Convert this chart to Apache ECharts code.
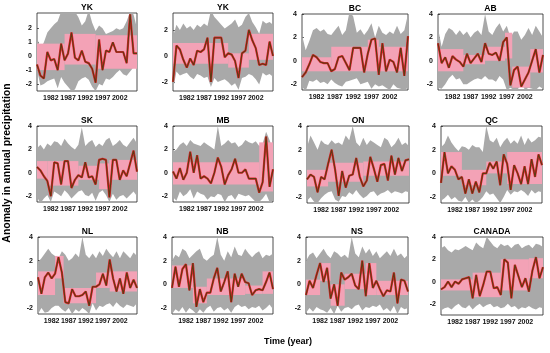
<!DOCTYPE html>
<html><head><meta charset="utf-8">
<script src="https://cdn.jsdelivr.net/npm/echarts@6/dist/echarts.min.js"></script>
<style>html,body{margin:0;padding:0;background:#fff}#c{width:550px;height:353px}</style>
</head><body><div id="c"></div>
<script>
const years = [1978,1979,1980,1981,1982,1983,1984,1985,1986,1987,1988,1989,1990,1991,1992,1993,1994,1995,1996,1997,1998,1999,2000,2001,2002,2003,2004,2005,2006,2007];
const xTickLabels = [1982,1987,1992,1997,2002];
const panelNames = ['YK','YK','BC','AB','SK','MB','ON','QC','NL','NB','NS','CANADA'];
const yTicksA = [-2,-1,0,1,2];
const yTicksB = [-2,0,2];
const yTicksC = [-2,0,2,4];

// observed anomaly
const obsYK1 = [-0.6,-1.4,-1.6,0.3,-0.3,-0.2,-1.0,0.9,-0.3,0.2,1.7,-0.1,-0.3,0.4,-0.4,-0.5,-0.9,-1.9,1.2,-1.0,0.4,0.3,1.0,0.3,0.3,0.3,-0.5,3.0,0.2,0.2];
const obsYK2 = [-2.0,0.8,0.5,-0.3,-0.9,-0.2,-0.7,0.4,0.3,0.5,1.4,-2.0,1.4,1.4,1.4,-0.1,0.2,0.1,-0.4,-1.7,0.2,0.4,2.0,1.2,0.6,-0.7,-0.6,-0.7,1.1,0.0];
const obsBC = [-1.4,-1.0,-0.3,0.5,0.3,-0.1,-0.2,-0.2,-0.9,-0.7,0.3,0.4,-0.2,-0.8,1.1,1.1,1.1,-1.0,0.6,1.8,1.9,-1.2,1.5,-0.9,0.1,-0.1,-1.0,1.1,-1.3,2.1];
const obsAB = [1.5,-0.2,0.3,-0.6,0.4,0.1,-0.1,-0.5,0.6,-0.2,0.2,0.6,-0.1,1.5,0.6,0.5,0.7,0.0,1.6,2.0,-2.1,-0.8,-0.5,-2.2,-1.6,-1.0,0.0,1.0,-1.0,0.5];
const obsSK = [0.5,0.2,-0.3,-0.7,-2.0,0.9,0.8,-1.0,1.0,1.0,-1.3,-0.6,-0.2,-0.4,0.9,-0.4,-0.3,-1.0,1.1,1.2,1.1,-2.1,1.1,1.1,-0.6,0.2,-0.3,0.8,1.9,0.1];
const obsMB = [0.1,-0.5,0.4,-0.6,0.0,1.8,0.0,1.5,-0.5,-0.3,-0.5,-0.9,0.0,1.3,0.5,-1.0,-0.2,0.3,1.2,0.0,0.0,0.3,-0.5,-0.5,-0.5,-1.7,-0.8,3.1,-1.2,0.3];
const obsON = [-0.5,-0.1,-0.3,-1.6,-0.3,-0.5,0.8,2.0,0.3,-1.9,0.2,-1.2,-0.2,-0.1,1.3,-0.3,-1.1,-0.6,1.4,0.4,-0.7,0.7,0.8,-0.6,1.5,-0.1,1.3,0.2,1.1,1.2];
const obsQC = [-0.8,1.8,0.0,0.6,0.3,-0.5,-0.3,-1.7,-0.5,-1.7,-0.7,-1.6,0.0,0.0,0.9,0.4,1.0,-1.0,1.6,0.8,-1.4,0.7,0.0,-0.9,0.6,-0.9,1.2,-0.3,1.6,0.7];
const obsNL = [0.6,-0.8,0.6,1.0,0.5,0.9,2.3,1.0,-1.5,-1.6,-0.4,-1.0,-1.0,-0.9,-0.6,-1.8,-0.2,-0.2,0.0,0.9,-0.1,2.1,0.5,-0.6,0.5,-0.8,1.0,-0.3,0.4,-0.3];
const obsNB = [-0.3,1.5,-0.2,1.3,1.7,-0.5,1.8,-1.9,-0.4,-1.5,-0.7,-0.7,0.5,1.4,-0.6,0.2,1.1,-1.5,0.9,-0.2,0.9,0.2,0.1,-0.9,-0.5,-0.4,-0.5,0.2,1.0,-0.4];
const obsNS = [-0.9,0.3,-0.3,0.8,1.8,0.2,1.4,-1.2,0.0,-1.8,1.0,0.4,0.6,0.9,-0.1,-0.4,2.0,-1.0,1.8,-0.3,0.3,-0.4,-1.0,-0.5,-0.6,1.0,-1.6,0.4,0.3,-0.6];
const obsCA = [-0.7,-0.5,0.0,-0.5,0.0,-0.2,0.2,0.3,0.4,-1.5,0.6,-1.3,-0.3,0.9,0.9,-0.6,-0.5,-1.2,2.0,1.7,-1.5,1.5,0.5,-0.5,0.3,-0.9,1.0,2.2,0.3,1.3];

// ensemble spread, upper edge
const upYK1 = [1.4,0.5,1.0,1.7,2.0,2.3,2.5,3.2,3.4,3.3,3.5,3.2,2.8,2.2,2.5,3.3,2.4,1.8,2.2,2.0,1.6,1.7,1.8,2.0,1.9,2.0,2.5,3.2,3.0,2.0];
const upYK2 = [1.5,2.4,2.0,2.5,2.1,2.3,2.0,2.4,2.2,2.5,2.3,3.5,3.0,2.7,2.4,2.1,2.3,2.5,2.8,2.2,2.4,3.0,3.3,2.6,2.2,1.7,2.7,2.5,2.6,2.4];
const upBC = [2.2,0.9,1.7,2.6,2.8,2.5,2.7,2.3,2.2,2.6,3.0,2.2,2.6,4.2,3.8,2.4,2.7,2.2,2.6,3.2,2.0,3.0,2.4,2.2,2.5,2.3,3.0,2.3,2.6,4.0];
const upAB = [2.8,1.2,2.3,2.8,2.6,2.2,2.6,2.2,2.5,2.0,2.4,2.6,2.2,4.0,2.5,2.2,2.8,3.2,2.5,3.0,2.0,2.5,2.5,1.8,2.2,2.8,2.2,3.0,2.5,2.0];
const upSK = [2.1,2.4,2.0,2.5,2.3,2.7,2.6,2.3,2.9,2.5,2.2,2.0,2.4,3.9,2.3,2.6,2.8,2.2,2.5,2.3,2.8,3.0,2.3,2.5,2.8,2.4,2.2,2.6,3.0,2.5];
const upMB = [1.8,2.0,2.4,2.6,2.3,2.8,2.5,2.4,2.3,2.6,2.4,2.2,2.0,4.0,2.3,2.5,2.8,2.5,2.6,2.2,2.4,2.8,2.6,2.5,2.7,2.3,2.5,3.5,2.8,2.0];
const upON = [2.2,3.2,2.6,2.0,2.8,2.5,2.4,2.8,2.5,2.6,2.4,3.2,2.8,4.0,2.6,2.3,3.0,2.4,2.8,2.6,2.4,2.2,3.0,2.8,2.2,2.5,3.0,2.4,2.6,2.3];
const upQC = [2.2,2.5,3.2,2.6,2.2,1.9,2.3,2.2,2.0,2.4,2.2,2.2,1.8,4.0,2.8,2.6,3.0,2.2,2.7,3.0,2.5,2.8,2.5,3.2,2.4,3.0,2.6,2.8,3.1,3.0];
const upNL = [1.9,2.2,2.6,3.0,2.6,2.4,2.2,2.8,2.5,2.0,2.2,2.6,2.3,4.0,2.5,2.2,2.6,2.2,2.8,2.4,3.0,2.6,2.3,2.8,2.2,2.8,2.5,2.2,2.7,2.4];
const upNB = [2.0,2.5,2.3,3.0,2.8,2.2,2.5,2.8,3.0,2.2,2.0,2.3,2.5,4.0,2.5,2.0,2.8,2.3,3.2,2.5,2.4,3.0,2.6,2.3,2.6,2.8,2.2,2.5,2.4,2.6];
const upNS = [2.0,2.5,2.7,2.2,2.6,3.0,2.5,2.2,2.8,2.6,2.3,2.5,2.2,4.0,2.6,2.3,3.2,2.6,3.0,2.4,2.8,2.2,2.5,2.8,2.4,3.0,2.4,2.6,2.2,2.5];
const upCA = [3.0,3.2,2.8,2.6,2.9,2.8,3.0,3.2,3.0,2.8,3.5,3.2,3.0,4.0,3.6,3.2,3.0,3.4,3.2,3.3,3.0,3.3,3.4,3.0,3.2,3.3,3.0,3.4,3.3,3.1];

// ensemble spread, lower edge
const loYK1 = [-1.0,-2.1,-2.0,-1.8,-1.7,-1.6,-2.3,-1.5,-1.9,-2.2,-2.5,-2.4,-1.8,-1.6,-1.5,-1.7,-2.2,-2.5,-2.0,-2.1,-1.6,-1.7,-1.5,-1.2,-1.0,-1.3,-1.4,-1.1,-0.8,-0.9];
const loYK2 = [-2.6,-1.2,-1.5,-1.4,-1.3,-1.6,-1.8,-1.4,-1.5,-1.7,-1.6,-2.4,-1.7,-2.0,-1.9,-1.8,-2.0,-2.3,-2.1,-2.6,-1.7,-1.6,-1.4,-1.5,-1.8,-2.2,-1.3,-1.5,-1.4,-1.6];
const loBC = [-2.2,-2.6,-1.7,-1.8,-1.6,-1.9,-1.8,-2.0,-1.6,-1.9,-2.1,-2.2,-1.8,-1.7,-1.6,-1.5,-2.0,-1.9,-1.8,-2.4,-2.0,-2.2,-2.1,-2.3,-2.5,-2.0,-2.3,-2.4,-2.5,-2.3];
const loAB = [-2.3,-2.4,-2.0,-1.5,-1.2,-1.6,-1.5,-2.0,-2.0,-1.8,-1.6,-1.5,-1.6,-1.3,-1.6,-1.6,-1.8,-1.3,-1.6,-2.5,-2.3,-2.5,-2.5,-1.8,-2.5,-2.3,-2.4,-2.5,-2.2,-2.4];
const loSK = [-2.1,-2.6,-2.2,-1.9,-2.5,-1.6,-1.8,-2.0,-1.5,-1.8,-2.2,-1.9,-1.6,-1.5,-1.9,-2.0,-1.7,-2.4,-1.7,-1.5,-1.9,-2.5,-1.8,-2.3,-2.0,-1.9,-2.2,-1.9,-1.6,-2.0];
const loMB = [-2.1,-2.4,-1.6,-2.0,-1.8,-1.4,-2.2,-1.6,-1.8,-1.9,-2.3,-2.0,-2.1,-1.8,-1.9,-2.5,-2.0,-1.9,-2.3,-1.8,-1.9,-2.0,-1.9,-2.2,-2.5,-2.5,-2.2,-1.8,-2.5,-2.4];
const loON = [-2.3,-2.0,-2.4,-2.5,-2.1,-1.8,-1.6,-1.5,-2.2,-2.4,-1.9,-2.0,-1.6,-1.8,-1.4,-1.8,-2.1,-1.9,-1.6,-1.5,-1.9,-1.7,-1.6,-1.4,-1.7,-1.5,-1.6,-1.7,-1.5,-1.6];
const loQC = [-2.3,-2.1,-1.8,-2.2,-2.0,-2.3,-2.4,-2.0,-2.5,-2.2,-2.5,-2.3,-2.0,-1.5,-1.8,-1.7,-2.1,-2.5,-2.0,-1.4,-1.8,-1.5,-1.6,-1.4,-1.6,-1.9,-1.4,-1.7,-1.5,-1.6];
const loNL = [-2.5,-2.0,-2.4,-2.3,-2.0,-1.8,-1.8,-2.1,-2.3,-2.0,-2.5,-2.1,-2.3,-2.0,-2.2,-2.5,-1.6,-2.2,-1.8,-1.9,-1.7,-1.6,-1.9,-1.5,-1.8,-2.0,-1.7,-1.8,-1.9,-1.6];
const loNB = [-2.5,-2.1,-2.3,-1.9,-2.4,-2.0,-2.2,-2.5,-2.1,-2.4,-2.0,-1.8,-2.3,-2.0,-1.9,-2.2,-2.0,-2.4,-1.9,-1.7,-1.9,-1.8,-2.1,-1.9,-2.0,-1.8,-2.2,-2.0,-1.7,-2.1];
const loNS = [-2.4,-2.0,-2.3,-1.9,-2.1,-2.2,-2.4,-2.0,-2.5,-1.8,-2.3,-2.0,-1.9,-2.1,-1.8,-1.7,-2.2,-1.9,-2.0,-1.8,-1.9,-1.7,-2.2,-2.0,-2.3,-1.8,-2.5,-1.9,-2.1,-2.0];
const loCA = [-2.6,-2.4,-2.3,-2.5,-2.2,-2.0,-2.3,-2.4,-2.1,-2.5,-2.2,-2.0,-2.3,-2.1,-2.0,-2.3,-2.2,-2.4,-2.3,-2.0,-2.3,-2.2,-2.5,-2.3,-2.4,-2.2,-2.4,-2.5,-2.3,-2.4];

// regime bands: [startYear, endYear, low, high]
const pinkYK1 = [[1978,1986,-1.0,0.9],[1986,1995,-0.6,1.6],[1995,2007,-0.9,1.5]];
const pinkYK2 = [[1978,1994,-0.6,1.0],[1994,2000,-0.9,0.2],[2000,2007,-0.3,1.7]];
const pinkBC = [[1978,1986,-0.9,0.3],[1986,1996,-0.9,1.2],[1996,1999,-0.9,1.8],[1999,2007,-0.9,1.2]];
const pinkAB = [[1978,1985,-0.9,1.0],[1985,1991,-0.3,0.5],[1991,1996.5,0.0,1.2],[1996.5,1998.5,0.2,2.4],[1998.5,2003.5,-2.3,-0.5],[2003.5,2007,-1.0,1.0]];
const pinkSK = [[1978,1981,-0.5,1.0],[1981,1990,-1.1,1.0],[1990,1996,-0.6,0.6],[1996,1999,-1.4,0.8],[1999,2007,-0.6,1.1]];
const pinkMB = [[1978,2003,-1.0,0.9],[2003,2007,-1.6,2.6]];
const pinkON = [[1978,1984,-1.1,0.3],[1984,1994,-0.7,0.9],[1994,2007,-0.2,1.0]];
const pinkQC = [[1978,1984,-0.2,1.8],[1984,1991,-1.0,0.3],[1991,1997,0.0,1.0],[1997,2007,-0.9,1.8]];
const pinkNL = [[1978,1983,-0.9,1.1],[1983,1985.5,0.5,2.4],[1985.5,1995,-1.6,-0.3],[1995,1999,-0.3,1.0],[1999,2007,-0.6,1.1]];
const pinkNB = [[1978,1984,-0.3,1.6],[1984,1988,-1.6,-0.2],[1988,1999,-0.9,0.5],[1999,2004,-0.8,-0.1],[2004,2007,-0.8,1.1]];
const pinkNS = [[1978,1982,-0.9,0.4],[1982,1985,0.3,1.8],[1985,1989,-1.8,0.0],[1989,1995,-0.4,0.9],[1995,1998,-0.9,1.8],[1998,2007,-0.9,0.3]];
const pinkCA = [[1978,1987,-0.8,0.2],[1987,1995,-1.4,0.8],[1995,2003,-0.8,2.0],[2003,2007,0.3,2.1]];

const obsAll = [obsYK1,obsYK2,obsBC,obsAB,obsSK,obsMB,obsON,obsQC,obsNL,obsNB,obsNS,obsCA];
const upAll = [upYK1,upYK2,upBC,upAB,upSK,upMB,upON,upQC,upNL,upNB,upNS,upCA];
const loAll = [loYK1,loYK2,loBC,loAB,loSK,loMB,loON,loQC,loNL,loNB,loNS,loCA];
const pinkAll = [pinkYK1,pinkYK2,pinkBC,pinkAB,pinkSK,pinkMB,pinkON,pinkQC,pinkNL,pinkNB,pinkNS,pinkCA];
const yMinAll = [-2.5,-2.7,-2.5,-2.5,-2.5,-2.5,-2.5,-2.5,-2.5,-2.5,-2.5,-3];
const yMaxAll = [3.1,3.3,4,4,4,4,4,4,4,4,4,4];
const yTicksAll = [yTicksA,yTicksB,yTicksC,yTicksC,yTicksC,yTicksC,yTicksC,yTicksC,yTicksC,yTicksC,yTicksC,yTicksC];

// layout (left, top, width, height)
const layout = [
  [37,13,100,78],[173,13,100,78],[302,14,106,76],[438,14,105,76],
  [37,126,100,76],[173,126,100,76],[307,126,102,77],[441,126,101,77],
  [38,237,99,77],[172,237,101,77],[306,237,102,77],[441,237,102,78]
];

const FONT = '"Liberation Sans", Arial, sans-serif';
const GRAY = '#a9a9a9';
const grids = [], xAxes = [], yAxes = [], series = [], graphics = [];
for (let k = 0; k < 12; k++) {
  const [l,t,w,h] = layout[k];
  grids.push({left:l, top:t, width:w, height:h, show:true, borderColor:'#222', borderWidth:0.8, backgroundColor:'#fff', z:0});
  xAxes.push({type:'value', gridIndex:k, min:1978, max:2007,
    axisLine:{show:false}, splitLine:{show:false},
    axisTick:{show:true, inside:true, length:2, customValues:xTickLabels, lineStyle:{color:'#222',width:0.7}},
    axisLabel:{customValues:xTickLabels, formatter:v=>String(v), hideOverlap:false, fontSize:7, color:'#111', fontFamily:FONT, fontWeight:'bold', margin:4}});
  yAxes.push({type:'value', gridIndex:k, min:yMinAll[k], max:yMaxAll[k],
    axisLine:{show:false}, splitLine:{show:false},
    axisTick:{show:true, inside:true, length:2, customValues:yTicksAll[k], lineStyle:{color:'#222',width:0.7}},
    axisLabel:{customValues:yTicksAll[k], formatter:v=>String(v), fontSize:7, color:'#111', fontFamily:FONT, fontWeight:'bold', margin:5}});
  const lo = loAll[k], up = upAll[k], ob = obsAll[k];
  const n = years.length;
  // spread band: a single polygon built from all data items, positioned through the axes
  series.push({type:'custom', xAxisIndex:k, yAxisIndex:k, clip:true, silent:true, z:1,
    data: years.map((y,i)=>[y, lo[i], up[i]]),
    renderItem:(params, api)=>{
      if (params.dataIndexInside !== 0) return null;
      const pts = [];
      for (let j = 0; j < n; j++) pts.push(api.coord([api.value(0,j), api.value(2,j)]));
      for (let j = n - 1; j >= 0; j--) pts.push(api.coord([api.value(0,j), api.value(1,j)]));
      return {type:'polygon', shape:{points:pts}, style:{fill:GRAY}};
    }});
  series.push({type:'custom', xAxisIndex:k, yAxisIndex:k, data: pinkAll[k], z:2, silent:true, clip:true,
    renderItem:(params, api)=>{
      const p0 = api.coord([api.value(0), api.value(3)]);
      const p1 = api.coord([api.value(1), api.value(2)]);
      return {type:'rect', shape:{x:p0[0], y:p0[1], width:p1[0]-p0[0], height:p1[1]-p0[1]},
        style:{fill:'#f3a2b6'}};
    }});
  series.push({type:'line', xAxisIndex:k, yAxisIndex:k, data: years.map((y,i)=>[y, ob[i]]),
    symbol:'none', lineStyle:{color:'#e3232c', width:2.2}, z:3, silent:true});
  series.push({type:'line', xAxisIndex:k, yAxisIndex:k, data: years.map((y,i)=>[y, ob[i]]),
    symbol:'none', lineStyle:{color:'#5e3a12', width:1.1}, z:4, silent:true});
  graphics.push({type:'text', x:l+w/2, y:t-5, style:{text:panelNames[k], font:'bold 8.5px '+FONT, fill:'#000', align:'center', verticalAlign:'middle'}, z:10});
}
graphics.push({type:'text', x:7, y:163, rotation:Math.PI/2, style:{text:'Anomaly in annual precipitation', font:'bold 10.5px '+FONT, fill:'#000', align:'center', verticalAlign:'middle'}});
graphics.push({type:'text', x:288, y:342, style:{text:'Time (year)', font:'bold 9px '+FONT, fill:'#000', align:'center', verticalAlign:'middle'}});

const chart = echarts.init(document.getElementById('c'), null, {renderer:'canvas'});
chart.setOption({animation:false, backgroundColor:'#fff', grid:grids, xAxis:xAxes, yAxis:yAxes, series:series, graphic:graphics});
</script></body></html>
